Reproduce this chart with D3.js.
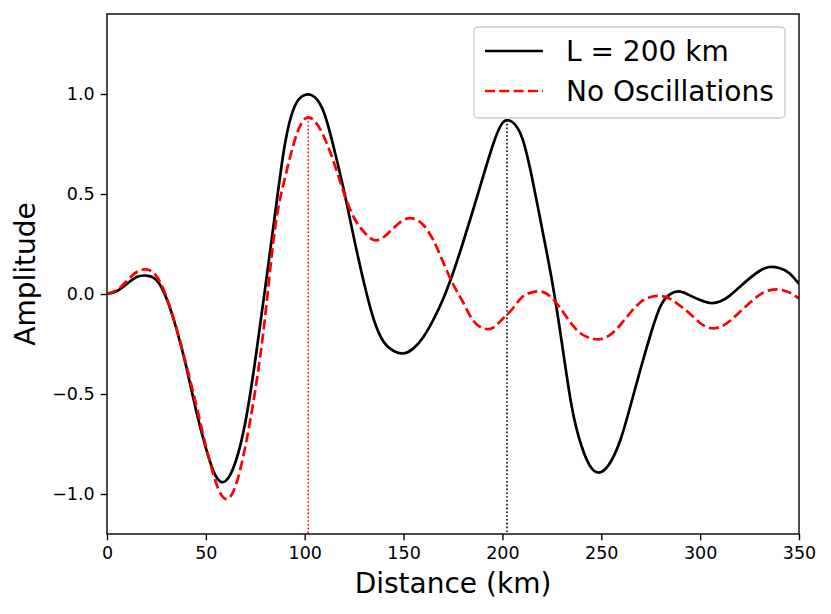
<!DOCTYPE html>
<html>
<head>
<meta charset="utf-8">
<script src="https://cdn.jsdelivr.net/npm/d3@7"></script>
<style>
  body { margin: 0; background: #fff; }
  text { font-family: "DejaVu Sans", sans-serif; }
</style>
</head>
<body>
<svg id="chart"></svg>
<script>
// Distance grid (km) shared by both curves
const distance = d3.range(0, 351, 5);

// L = 200 km curve
const ampL200 = [
  0, 0.015, 0.05, 0.085, 0.092, 0.07, -0.02, -0.17, -0.36, -0.58,
  -0.77, -0.91, -0.935, -0.84, -0.64, -0.33, 0.03, 0.40, 0.75, 0.94,
  0.995, 0.985, 0.90, 0.72, 0.51, 0.275, 0.055, -0.13, -0.24, -0.285,
  -0.297, -0.272, -0.215, -0.13, -0.025, 0.105, 0.255, 0.415, 0.58, 0.74,
  0.855, 0.86, 0.78, 0.58, 0.33, 0.07, -0.24, -0.56, -0.76, -0.87,
  -0.89, -0.835, -0.72, -0.55, -0.37, -0.20, -0.06, 0.0, 0.012, -0.008,
  -0.03, -0.045, -0.038, -0.008, 0.035, 0.078, 0.115, 0.135, 0.13, 0.105,
  0.05
];

// No oscillations curve
const ampNoOsc = [
  0, 0.02, 0.065, 0.11, 0.123, 0.09, -0.013, -0.167, -0.35, -0.55,
  -0.76, -0.94, -1.025, -0.96, -0.76, -0.48, -0.11, 0.33, 0.58, 0.77,
  0.875, 0.865, 0.78, 0.65, 0.50, 0.38, 0.31, 0.27, 0.285, 0.33,
  0.37, 0.377, 0.345, 0.27, 0.16, 0.05, -0.04, -0.13, -0.17, -0.17,
  -0.125, -0.075, -0.015, 0.008, 0.012, -0.02, -0.08, -0.15, -0.20, -0.222,
  -0.225, -0.20, -0.15, -0.09, -0.04, -0.015, -0.01, -0.025, -0.06, -0.10,
  -0.145, -0.17, -0.165, -0.135, -0.09, -0.045, -0.005, 0.018, 0.022, 0.008,
  -0.022
];

// Peak markers (dotted vertical lines)
const peakKm = [101.8, 202.3];
const peakAmp = [0.883, 0.87];
const peakColor = ["red", "black"];

const xTicks = [0, 50, 100, 150, 200, 250, 300, 350];
const yTicks = [-1.0, -0.5, 0.0, 0.5, 1.0];

const width = 831, height = 614;
const margin = { left: 107, right: 32, top: 14, bottom: 80 };

const svg = d3.select("#chart")
  .attr("width", width)
  .attr("height", height);

const x = d3.scaleLinear().domain([0, 350]).range([margin.left, width - margin.right]);
const y = d3.scaleLinear().domain([-1.2, 1.4]).range([height - margin.bottom, margin.top]);

svg.append("defs").append("clipPath").attr("id", "plotClip")
  .append("rect")
  .attr("x", x(0)).attr("y", y(1.4))
  .attr("width", x(350) - x(0)).attr("height", y(-1.2) - y(1.4));

const plot = svg.append("g").attr("clip-path", "url(#plotClip)");

// dotted peak markers
peakKm.forEach((k, i) => {
  plot.append("line")
    .attr("x1", x(k)).attr("x2", x(k))
    .attr("y1", y(peakAmp[i])).attr("y2", y(-1.2))
    .attr("stroke", peakColor[i])
    .attr("stroke-width", 1.6)
    .attr("stroke-dasharray", "1.6,2.2");
});

const line = d3.line()
  .x((d, i) => x(distance[i]))
  .y(d => y(d))
  .curve(d3.curveNatural);

plot.append("path")
  .datum(ampL200)
  .attr("d", line)
  .attr("fill", "none")
  .attr("stroke", "black")
  .attr("stroke-width", 2.7);

plot.append("path")
  .datum(ampNoOsc)
  .attr("d", line)
  .attr("fill", "none")
  .attr("stroke", "red")
  .attr("stroke-width", 2.7)
  .attr("stroke-dasharray", "10,4.3");

// axes
const xAxis = svg.append("g")
  .attr("transform", `translate(0,${y(-1.2)})`)
  .call(d3.axisBottom(x).tickValues(xTicks).tickFormat(d3.format("d")).tickSize(6.3).tickPadding(6));
const yAxis = svg.append("g")
  .attr("transform", `translate(${x(0)},0)`)
  .call(d3.axisLeft(y).tickValues(yTicks).tickFormat(d => d3.format(".1f")(d).replace("-", "\u2212")).tickSize(6.3).tickPadding(6));

[xAxis, yAxis].forEach(a => {
  a.select(".domain").remove();
  a.selectAll(".tick line").attr("stroke", "black").attr("stroke-width", 1.4);
  a.selectAll(".tick text")
    .attr("fill", "black")
    .style("font-family", "DejaVu Sans")
    .style("font-size", "17.5px");
});

// frame
svg.append("rect")
  .attr("x", x(0)).attr("y", y(1.4))
  .attr("width", x(350) - x(0)).attr("height", y(-1.2) - y(1.4))
  .attr("fill", "none")
  .attr("stroke", "black")
  .attr("stroke-width", 1.4);

// axis labels
svg.append("text")
  .attr("x", (x(0) + x(350)) / 2)
  .attr("y", 593)
  .attr("text-anchor", "middle")
  .style("font-size", "28px")
  .text("Distance (km)");

svg.append("text")
  .attr("transform", `translate(35,${(y(1.4) + y(-1.2)) / 2}) rotate(-90)`)
  .attr("text-anchor", "middle")
  .style("font-size", "28px")
  .text("Amplitude");

// legend
const legendLabels = ["L = 200 km", "No Oscillations"];
const legendColors = ["black", "red"];
const legendDash = [null, "10,4.3"];

const legend = svg.append("g");
legend.append("rect")
  .attr("x", 474).attr("y", 27)
  .attr("width", 311).attr("height", 91)
  .attr("rx", 4)
  .attr("fill", "white").attr("fill-opacity", 0.8)
  .attr("stroke", "#cccccc").attr("stroke-width", 1.4);

legendLabels.forEach((label, i) => {
  const ly = 51 + i * 40;
  legend.append("line")
    .attr("x1", 485).attr("x2", 543)
    .attr("y1", ly).attr("y2", ly)
    .attr("stroke", legendColors[i])
    .attr("stroke-width", 2.7)
    .attr("stroke-dasharray", legendDash[i]);
  legend.append("text")
    .attr("x", 566).attr("y", ly + 10)
    .style("font-size", "28px")
    .text(label);
});
</script>
</body>
</html>
